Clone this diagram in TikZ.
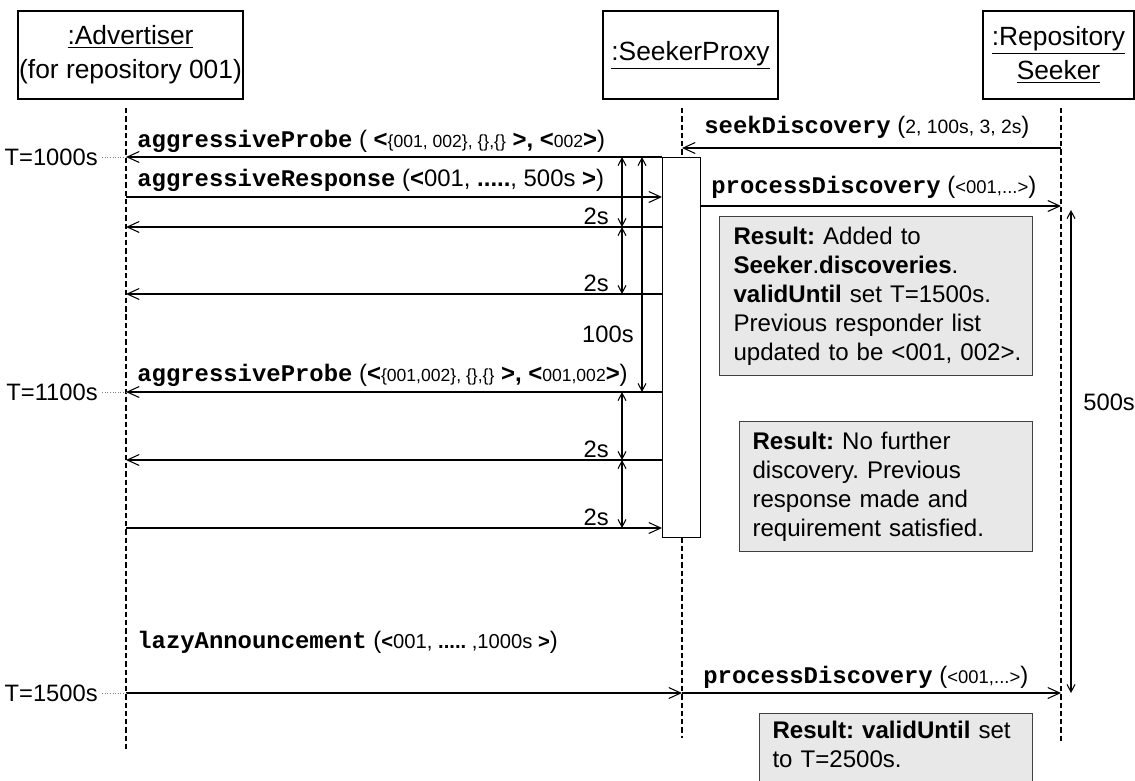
\documentclass[tikz,border=0pt]{standalone}
\usepackage{fontspec}
\setmainfont{Liberation Sans}
\setsansfont{Liberation Sans}
\setmonofont{Liberation Mono}
\usepackage{tikz}
\usetikzlibrary{arrows.meta,positioning}
\frenchspacing

\newcommand{\opname}[1]{{\fontsize{13.6}{16}\selectfont\ttfamily\bfseries #1}}
\newcommand{\argsz}[2]{{\fontsize{#1}{16}\selectfont #2}}

\tikzset{
  lane/.style={draw, line width=0.6pt, fill=white, inner sep=0pt, align=center,
    minimum height=17.6mm, font=\fontsize{15}{19.5}\selectfont},
  lifeline/.style={line width=0.6pt, dash pattern=on 3pt off 1.7pt},
  msg/.style={line width=0.6pt, -{Straight Barb[length=2.4mm,width=2.2mm]}},
  span/.style={line width=0.6pt,
    {Straight Barb[length=1.5mm,width=1.6mm]}-{Straight Barb[length=1.5mm,width=1.6mm]}},
  tmark/.style={line width=0.5pt, gray, densely dotted},
  msglabel/.style={anchor=base west, inner sep=0pt, font=\fontsize{13.6}{16}\selectfont},
  timelabel/.style={inner sep=0pt, font=\fontsize{13.5}{16}\selectfont},
  result/.style={draw=black!75, fill=black!9, line width=0.6pt, anchor=north west,
    align=left, inner ysep=0pt, font=\fontsize{13.7}{16.5}\selectfont},
}

\begin{document}
\begin{tikzpicture}[x=0.2mm, y=-0.2mm]
  \useasboundingbox (0,0) rectangle (1135,780);
  \clip (0,0) rectangle (1135,780);

  % Objects
  \node[lane, minimum width=45mm] (adv) at (130.5,55) {\underline{:Advertiser}\\(for repository 001)};
  \node[lane, minimum width=35mm] (proxy) at (690.5,55) {\underline{:SeekerProxy}};
  \node[lane, minimum width=30.2mm] (seeker) at (1058.5,55) {\underline{:Repository}\\\underline{Seeker}};

  % Lifelines
  \coordinate (advTop) at (126,108);    \coordinate (advEnd) at (126,752);
  \coordinate (proxyTop) at (682,108);  \coordinate (proxyEnd) at (682,738);
  \coordinate (seekTop) at (1061,108);  \coordinate (seekEnd) at (1061,742);
  \draw[lifeline] (advTop) -- (advEnd);
  \draw[lifeline] (proxyTop) -- (proxyEnd);
  \draw[lifeline] (seekTop) -- (seekEnd);

  % Activation of the proxy
  \node[draw, fill=white, line width=0.6pt, inner sep=0pt, anchor=north west,
    minimum width=7.6mm, minimum height=76mm] (act) at (662,157) {};

  % Message ends
  \foreach \n/\y in {pr1/157, rs1/197, rp1/227, rp2/294, pr2/392, rp3/460, rp4/528} {
    \coordinate (A\n) at (126,\y);
    \coordinate (P\n) at (662,\y);
  }
  \coordinate (Sseek) at (1061,148);  \coordinate (Xseek) at (682,148);
  \coordinate (Xproc) at (700,206);   \coordinate (Sproc) at (1061,206);
  \coordinate (Alazy) at (126,693);   \coordinate (Xlazy) at (682,693);
  \coordinate (Slazy) at (1061,693);

  % Messages
  \draw[msg] (Sseek) -- (Xseek);
  \draw[msg] (Ppr1) -- (Apr1);
  \draw[msg] (Ars1) -- (Prs1);
  \draw[msg] (Xproc) -- (Sproc);
  \draw[msg] (Prp1) -- (Arp1);
  \draw[msg] (Prp2) -- (Arp2);
  \draw[msg] (Ppr2) -- (Apr2);
  \draw[msg] (Prp3) -- (Arp3);
  \draw[msg] (Arp4) -- (Prp4);
  \draw[msg] (Alazy) -- (Xlazy);
  \draw[msg] (Xlazy) -- (Slazy);

  % Message labels
  \node[msglabel] (seekLbl) at (704,133) {\opname{seekDiscovery} (\argsz{11}{2, 100s, 3, 2s})};
  \node[msglabel] (probeLbl) at (137,147) {\opname{aggressiveProbe} ( \textbf{<}\argsz{10}{\{001, 002\}, \{\},\{\}} \textbf{>, <}\argsz{10}{002}\textbf{>})};
  \node[msglabel] (respLbl) at (137,186) {\opname{aggressiveResponse} (\textbf{<}001, \textbf{.....}, 500s \textbf{>})};
  \node[msglabel] (procLbl) at (711,193) {\opname{processDiscovery} (\argsz{10.5}{<001,...>})};
  \node[msglabel] (probeLbl2) at (137,381) {\opname{aggressiveProbe} (\textbf{<}\argsz{10}{\{001,002\}, \{\},\{\}} \textbf{>, <}\argsz{10}{001,002}\textbf{>})};
  \node[msglabel] (lazyLbl) at (137,648) {\opname{lazyAnnouncement} (\argsz{11.5}{\textbf{<}001, \textbf{.....} ,1000s \textbf{>}})};
  \node[msglabel] (procLbl2) at (703,683) {\opname{processDiscovery} (\argsz{10.5}{<001,...>})};

  % Time marks
  \foreach \tm/\y in {1000/157, 1100/392, 1500/693} {
    \node[timelabel, anchor=east] (T\tm) at (98,\y) {T=\tm s};
    \coordinate (M\tm) at (126,\y);
    \draw[tmark] ([xshift=0.8mm]T\tm.east) -- (M\tm);
  }

  % Durations
  \foreach \n/\y in {1/157, 2/227, 3/294, 4/392, 5/460, 6/528}
    \coordinate (D\n) at (622,\y);
  \foreach \a/\b in {1/2, 2/3, 4/5, 5/6}
    \draw[span] (D\a) -- (D\b);
  \foreach \n/\y in {2/227, 3/294, 5/460, 6/528}
    \node[timelabel, anchor=base east] (two\n) at (609,\y-3) {2s};
  \coordinate (H1) at (642,157);  \coordinate (H2) at (642,392);
  \draw[span] (H1) -- (H2);
  \node[timelabel, anchor=east] (hundred) at (634,334) {100s};
  \coordinate (F1) at (1071,210); \coordinate (F2) at (1071,693);
  \draw[span] (F1) -- (F2);
  \node[timelabel, anchor=west] (fivehundred) at (1083,402) {500s};

  % Results
  \node[result, inner xsep=2.8mm, text width=57mm, minimum height=31.8mm] (res1) at (719,216)
    {\textbf{Result:} Added to\\ \textbf{Seeker}.\textbf{discoveries}.\\ \textbf{validUntil} set T=1500s.\\ Previous responder list\\ updated~to~be~<001,~002>.};
  \node[result, inner xsep=2.6mm, text width=53.4mm, minimum height=26mm] (res2) at (739,421)
    {\textbf{Result:} No further\\ discovery. Previous\\ response made and\\ requirement satisfied.};
  \node[result, inner xsep=2.6mm, text width=49.4mm, minimum height=18mm] (res3) at (759,713)
    {\textbf{Result: validUntil} set\\ to T=2500s.\\ \mbox{}};
\end{tikzpicture}
\end{document}
